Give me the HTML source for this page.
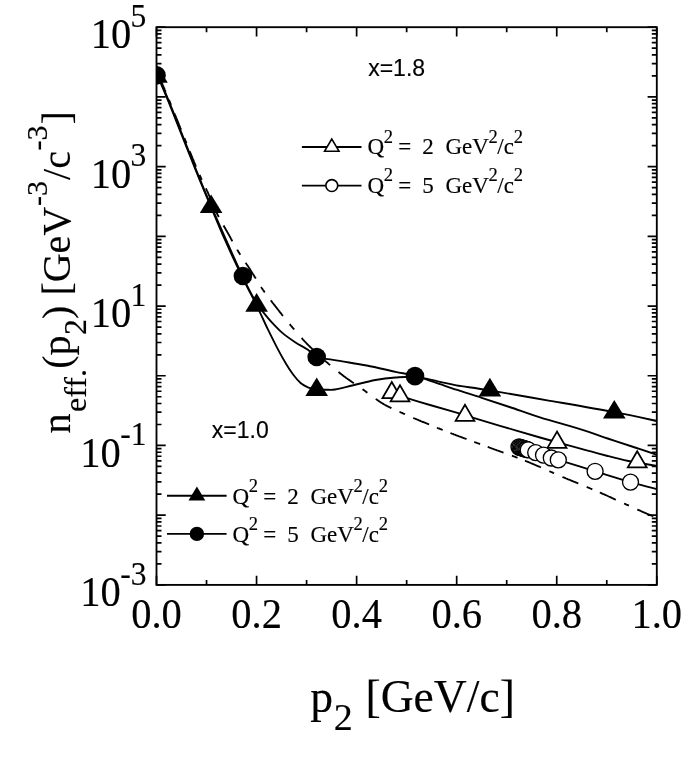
<!DOCTYPE html>
<html><head><meta charset="utf-8"><title>n_eff</title>
<style>
html,body{margin:0;padding:0;background:#fff;}
body{width:692px;height:769px;overflow:hidden;}
svg{display:block;filter:grayscale(1);}
text{fill:#000;stroke:#000;stroke-width:0.15px;}
.s{font-family:"Liberation Serif",serif;}
.a{font-family:"Liberation Sans",sans-serif;}
</style></head><body>
<svg width="692" height="769" viewBox="0 0 692 769">
<rect width="692" height="769" fill="#fff"/>
<defs><clipPath id="cp"><rect x="156.5" y="27.2" width="500.30" height="557.70"/></clipPath></defs>
<path d="M156.50 584.9v-9.2M156.50 27.2v9.2M206.53 584.9v-5.0M206.53 27.2v5.0M256.56 584.9v-9.2M256.56 27.2v9.2M306.59 584.9v-5.0M306.59 27.2v5.0M356.62 584.9v-9.2M356.62 27.2v9.2M406.65 584.9v-5.0M406.65 27.2v5.0M456.68 584.9v-9.2M456.68 27.2v9.2M506.71 584.9v-5.0M506.71 27.2v5.0M556.74 584.9v-9.2M556.74 27.2v9.2M606.77 584.9v-5.0M606.77 27.2v5.0M656.80 584.9v-9.2M656.80 27.2v9.2M156.5 27.20h9.2M656.8 27.20h-9.2M156.5 75.93h5.0M656.8 75.93h-5.0M156.5 63.65h5.0M656.8 63.65h-5.0M156.5 54.94h5.0M656.8 54.94h-5.0M156.5 48.19h5.0M656.8 48.19h-5.0M156.5 42.67h5.0M656.8 42.67h-5.0M156.5 38.00h5.0M656.8 38.00h-5.0M156.5 33.96h5.0M656.8 33.96h-5.0M156.5 30.39h5.0M656.8 30.39h-5.0M156.5 96.91h9.2M656.8 96.91h-9.2M156.5 145.64h5.0M656.8 145.64h-5.0M156.5 133.36h5.0M656.8 133.36h-5.0M156.5 124.65h5.0M656.8 124.65h-5.0M156.5 117.90h5.0M656.8 117.90h-5.0M156.5 112.38h5.0M656.8 112.38h-5.0M156.5 107.71h5.0M656.8 107.71h-5.0M156.5 103.67h5.0M656.8 103.67h-5.0M156.5 100.10h5.0M656.8 100.10h-5.0M156.5 166.62h9.2M656.8 166.62h-9.2M156.5 215.35h5.0M656.8 215.35h-5.0M156.5 203.08h5.0M656.8 203.08h-5.0M156.5 194.37h5.0M656.8 194.37h-5.0M156.5 187.61h5.0M656.8 187.61h-5.0M156.5 182.09h5.0M656.8 182.09h-5.0M156.5 177.42h5.0M656.8 177.42h-5.0M156.5 173.38h5.0M656.8 173.38h-5.0M156.5 169.81h5.0M656.8 169.81h-5.0M156.5 236.34h9.2M656.8 236.34h-9.2M156.5 285.06h5.0M656.8 285.06h-5.0M156.5 272.79h5.0M656.8 272.79h-5.0M156.5 264.08h5.0M656.8 264.08h-5.0M156.5 257.32h5.0M656.8 257.32h-5.0M156.5 251.80h5.0M656.8 251.80h-5.0M156.5 247.14h5.0M656.8 247.14h-5.0M156.5 243.09h5.0M656.8 243.09h-5.0M156.5 239.53h5.0M656.8 239.53h-5.0M156.5 306.05h9.2M656.8 306.05h-9.2M156.5 354.78h5.0M656.8 354.78h-5.0M156.5 342.50h5.0M656.8 342.50h-5.0M156.5 333.79h5.0M656.8 333.79h-5.0M156.5 327.04h5.0M656.8 327.04h-5.0M156.5 321.52h5.0M656.8 321.52h-5.0M156.5 316.85h5.0M656.8 316.85h-5.0M156.5 312.81h5.0M656.8 312.81h-5.0M156.5 309.24h5.0M656.8 309.24h-5.0M156.5 375.76h9.2M656.8 375.76h-9.2M156.5 424.49h5.0M656.8 424.49h-5.0M156.5 412.21h5.0M656.8 412.21h-5.0M156.5 403.50h5.0M656.8 403.50h-5.0M156.5 396.75h5.0M656.8 396.75h-5.0M156.5 391.23h5.0M656.8 391.23h-5.0M156.5 386.56h5.0M656.8 386.56h-5.0M156.5 382.52h5.0M656.8 382.52h-5.0M156.5 378.95h5.0M656.8 378.95h-5.0M156.5 445.47h9.2M656.8 445.47h-9.2M156.5 494.20h5.0M656.8 494.20h-5.0M156.5 481.93h5.0M656.8 481.93h-5.0M156.5 473.22h5.0M656.8 473.22h-5.0M156.5 466.46h5.0M656.8 466.46h-5.0M156.5 460.94h5.0M656.8 460.94h-5.0M156.5 456.27h5.0M656.8 456.27h-5.0M156.5 452.23h5.0M656.8 452.23h-5.0M156.5 448.66h5.0M656.8 448.66h-5.0M156.5 515.19h9.2M656.8 515.19h-9.2M156.5 563.91h5.0M656.8 563.91h-5.0M156.5 551.64h5.0M656.8 551.64h-5.0M156.5 542.93h5.0M656.8 542.93h-5.0M156.5 536.17h5.0M656.8 536.17h-5.0M156.5 530.65h5.0M656.8 530.65h-5.0M156.5 525.99h5.0M656.8 525.99h-5.0M156.5 521.94h5.0M656.8 521.94h-5.0M156.5 518.38h5.0M656.8 518.38h-5.0M156.5 584.90h9.2M656.8 584.90h-9.2" stroke="#000" stroke-width="1.7000000000000002" fill="none"/>
<g clip-path="url(#cp)">
<g fill="none" stroke="#000" stroke-width="1.85">
<path d="M157.3 76.1L157.3 76.1L157.4 76.2L157.5 76.3L157.6 76.3L157.6 76.4L157.7 76.5L157.8 76.5L157.8 76.6L157.9 76.7L158.0 76.7L158.1 76.8L158.1 76.9L158.2 77.0L158.3 77.0L158.4 77.1L158.5 77.2L158.5 77.3L158.6 77.4L158.7 77.5L158.7 77.5L158.8 77.6L158.9 77.7L159.0 77.8L159.0 77.9L159.1 78.0L159.2 78.1L159.2 78.2L159.3 78.2L159.3 78.3L159.4 78.4L159.4 78.4L159.5 78.5L159.5 78.5L159.6 78.5L159.6 78.6L159.6 78.6L159.7 78.6L159.7 78.7L159.7 78.7L159.8 78.7L159.8 78.8L159.8 78.8L159.9 78.9L159.9 78.9L160.0 79.0L160.0 79.0L160.1 79.1L160.1 79.2L160.2 79.3L160.2 79.4L160.3 79.5L160.4 79.7L160.4 79.8L160.5 80.0L160.6 80.1L160.7 80.3L160.8 80.6L160.9 80.8L161.0 81.0L161.1 81.3L161.3 81.6L161.4 81.9L161.6 82.3L161.7 82.6L161.9 83.0L162.1 83.4L162.3 83.8L162.4 84.2L162.6 84.7L162.8 85.1L163.0 85.6L163.2 86.0L163.4 86.5L163.6 87.0L163.8 87.5L164.0 88.0L164.2 88.5L164.5 89.0L164.7 89.6L164.9 90.1L165.2 90.7L165.4 91.3L165.7 91.9M168.9 99.7L169.2 100.5L169.6 101.3L169.9 102.2L170.3 103.1L170.7 104.0L171.0 104.9M174.5 113.5L175.0 114.8L175.6 116.1L176.1 117.5L176.7 118.9L177.3 120.3L177.9 121.8L178.5 123.3L179.1 124.9L179.8 126.5L180.4 128.1L181.1 129.7M184.4 138.1L185.1 139.8L185.8 141.4L186.5 143.1M189.8 151.4L190.4 152.9L191.1 154.5L191.7 156.0L192.3 157.5L192.9 159.0L193.5 160.4L194.0 161.8L194.6 163.1L195.1 164.4L195.6 165.6L196.1 166.7M199.6 174.9L199.9 175.6L200.2 176.3L200.5 177.0L200.8 177.6L201.0 178.2L201.3 178.7L201.5 179.3L201.8 179.8M205.9 188.3L206.1 188.8L206.4 189.3L206.6 189.8L206.8 190.3L207.1 190.9L207.4 191.5L207.6 192.1L207.9 192.6L208.1 193.2L208.4 193.8L208.6 194.4L208.9 195.0L209.2 195.6L209.4 196.2L209.7 196.8L209.9 197.5L210.2 198.1L210.5 198.7L210.7 199.3L211.0 199.9L211.3 200.5L211.5 201.2L211.8 201.8L212.0 202.4L212.3 203.0L212.6 203.6M216.2 211.9L216.5 212.5L216.7 213.0L217.0 213.5L217.2 214.1L217.5 214.6L217.8 215.1L218.0 215.6L218.3 216.1L218.5 216.6L218.8 217.1M223.5 225.5L223.7 225.9L224.0 226.3L224.2 226.8L224.5 227.2L224.7 227.6L225.0 228.0L225.2 228.5L225.5 228.9L225.7 229.3L226.0 229.7L226.2 230.2L226.5 230.6L226.7 231.1L227.0 231.5L227.2 231.9L227.5 232.4L227.8 232.9L228.0 233.3L228.3 233.8L228.5 234.2L228.8 234.7L229.0 235.1L229.3 235.6L229.5 236.1L229.8 236.5L230.1 237.0L230.3 237.5L230.6 237.9L230.8 238.4L231.1 238.9L231.3 239.3L231.6 239.8L231.8 240.3L232.1 240.7L232.4 241.2M237.2 249.6L237.4 250.1L237.7 250.5L238.0 251.0L238.3 251.5L238.6 251.9L238.9 252.4L239.1 252.8L239.4 253.3L239.7 253.7L240.0 254.2L240.3 254.7M245.7 262.8L246.0 263.3L246.3 263.7L246.6 264.2L246.9 264.6L247.2 265.1L247.6 265.6L247.9 266.0L248.2 266.5L248.5 266.9L248.8 267.4L249.1 267.9L249.4 268.4L249.7 268.8L250.0 269.3L250.3 269.8L250.6 270.3L250.9 270.7L251.2 271.2L251.5 271.7L251.8 272.2L252.1 272.7L252.4 273.2L252.7 273.7L253.0 274.1L253.3 274.6L253.6 275.1L253.9 275.6L254.2 276.1L254.5 276.6L254.8 277.1L255.2 277.6L255.5 278.1L255.8 278.6M261.1 287.1L261.4 287.6L261.7 288.0L262.1 288.5L262.4 289.0L262.7 289.5L263.1 290.0L263.4 290.4L263.7 290.9L264.1 291.4L264.4 291.9L264.8 292.3M270.7 300.3L271.1 300.8L271.5 301.2L271.8 301.7L272.2 302.2L272.5 302.6L272.9 303.1L273.3 303.5L273.6 304.0L274.0 304.5L274.3 304.9L274.7 305.4L275.1 305.9L275.4 306.3L275.8 306.8L276.1 307.2L276.5 307.7L276.9 308.2L277.2 308.6L277.6 309.1L277.9 309.5L278.3 310.0L278.7 310.5L279.0 310.9L279.4 311.4L279.7 311.9L280.1 312.3L280.5 312.8L280.8 313.2L281.2 313.7L281.6 314.2L281.9 314.6L282.3 315.1L282.6 315.5L283.0 316.0M289.7 324.2L290.1 324.6L290.4 325.1L290.8 325.5L291.2 326.0L291.6 326.5L292.0 326.9L292.3 327.4L292.7 327.8L293.1 328.2L293.5 328.7L293.9 329.1L294.2 329.6M301.6 338.0L302.0 338.4L302.4 338.9L302.8 339.3L303.2 339.8L303.6 340.2L304.0 340.7L304.4 341.1L304.8 341.6L305.3 342.0L305.7 342.5L306.1 342.9L306.6 343.4L307.0 343.8L307.4 344.3L307.9 344.7L308.3 345.2L308.8 345.6L309.3 346.1L309.7 346.5L310.2 347.0L310.7 347.5L311.2 347.9L311.7 348.4L312.1 348.9L312.6 349.3L313.1 349.8L313.6 350.3L314.1 350.8L314.6 351.2L315.1 351.7L315.6 352.2L316.1 352.6L316.6 353.1M325.1 360.8L325.6 361.2L326.0 361.6L326.5 362.0L327.0 362.4L327.4 362.8L327.9 363.2L328.3 363.6L328.8 364.0L329.2 364.4L329.7 364.8L330.1 365.2M338.5 372.0L338.9 372.3L339.4 372.7L339.8 373.0L340.2 373.4L340.7 373.7L341.1 374.1L341.6 374.4L342.0 374.8L342.5 375.1L342.9 375.5L343.4 375.8L343.8 376.2L344.3 376.5L344.8 376.8L345.2 377.2L345.7 377.5L346.2 377.9L346.6 378.2L347.1 378.6L347.6 378.9L348.0 379.2L348.5 379.6L349.0 379.9L349.5 380.2L349.9 380.6L350.4 380.9L350.9 381.2L351.4 381.6L351.9 381.9L352.3 382.2L352.8 382.6L353.3 382.9L353.8 383.2M362.5 389.2L363.0 389.6L363.5 389.9L364.0 390.2L364.5 390.6L365.0 390.9L365.5 391.3L365.9 391.7L366.4 392.0L366.9 392.4L367.4 392.7M375.8 398.9L376.3 399.3L376.8 399.6L377.3 400.0L377.8 400.3L378.3 400.7L378.8 401.0L379.3 401.4L379.8 401.7L380.3 402.0L380.8 402.4L381.3 402.7L381.8 403.0L382.3 403.3L382.8 403.6L383.3 403.9L383.8 404.2L384.3 404.5L384.8 404.8L385.3 405.1L385.8 405.3L386.3 405.6L386.8 405.9L387.3 406.1L387.8 406.4L388.3 406.7L388.8 406.9L389.4 407.2L389.9 407.4L390.4 407.7L390.9 407.9L391.4 408.2M399.5 411.8L400.0 412.0L400.5 412.3L401.0 412.5L401.5 412.7L402.0 412.9L402.5 413.1L403.0 413.4L403.5 413.6L404.0 413.8L404.5 414.0L405.0 414.3M413.3 417.9L413.7 418.1L414.2 418.3L414.7 418.5L415.1 418.7L415.6 418.9L416.1 419.1L416.6 419.3L417.1 419.5L417.6 419.7L418.1 420.0L418.6 420.2L419.1 420.4L419.7 420.6L420.2 420.8L420.7 421.1L421.3 421.3L421.8 421.5L422.4 421.8L423.0 422.0L423.6 422.2L424.2 422.5L424.8 422.7L425.4 423.0L426.0 423.2L426.6 423.5L427.2 423.7L427.8 424.0L428.4 424.2L429.1 424.5M437.0 427.7L437.6 428.0L438.3 428.3L439.1 428.5L439.8 428.8L440.5 429.1L441.2 429.4L441.9 429.7L442.7 430.0M450.4 433.0L451.2 433.3L452.0 433.6L452.9 433.9L453.7 434.3L454.6 434.6L455.5 434.9L456.3 435.3L457.2 435.6L458.1 435.9L459.0 436.3L459.9 436.6L460.9 437.0L461.8 437.3L462.7 437.7L463.7 438.0L464.6 438.4L465.6 438.7L466.5 439.1M474.3 441.9L475.2 442.3L476.2 442.6L477.2 443.0L478.1 443.4L479.1 443.7L480.1 444.1M487.7 446.9L488.6 447.2L489.6 447.6L490.5 447.9L491.4 448.3L492.4 448.6L493.3 449.0L494.2 449.3L495.2 449.6L496.1 450.0L497.0 450.3L498.0 450.6L498.9 451.0L499.8 451.3L500.7 451.6L501.7 452.0L502.6 452.3L503.5 452.6M511.9 455.7L512.9 456.0L513.8 456.4L514.7 456.7L515.7 457.1L516.6 457.4L517.5 457.8M525.0 460.7L525.9 461.1L526.9 461.5L527.8 461.8L528.7 462.2L529.7 462.6L530.6 463.0L531.6 463.4L532.5 463.8L533.4 464.2L534.4 464.6L535.3 465.0L536.2 465.4L537.2 465.8L538.1 466.2L539.1 466.6L540.0 467.0L540.9 467.4M549.4 471.2L550.3 471.6L551.3 472.0L552.2 472.4L553.1 472.8L554.1 473.2M562.5 476.9L563.4 477.3L564.4 477.7L565.3 478.1L566.2 478.5L567.2 478.9L568.1 479.3L569.0 479.6L570.0 480.0L570.9 480.4L571.8 480.8L572.7 481.2L573.7 481.6L574.6 482.0L575.5 482.3L576.5 482.7L577.4 483.1L578.3 483.5M586.7 486.9L587.6 487.3L588.6 487.7L589.5 488.1L590.4 488.5L591.4 488.9L592.3 489.3M599.8 492.5L600.8 492.9L601.7 493.3L602.7 493.8L603.7 494.2L604.7 494.6L605.7 495.1L606.7 495.5L607.7 496.0L608.7 496.5L609.7 496.9L610.8 497.4L611.8 497.9L612.8 498.3L613.9 498.8L614.9 499.3L615.9 499.7M624.1 503.5L625.0 503.9L626.0 504.4L627.0 504.8L627.9 505.2L628.9 505.7M637.3 509.5L638.0 509.8L638.7 510.1L639.4 510.4L640.1 510.7L640.8 511.0L641.4 511.3L642.1 511.6L642.7 511.9L643.3 512.1L643.9 512.4L644.5 512.6L645.1 512.9L645.7 513.1L646.3 513.4L646.8 513.6L647.4 513.8L647.9 514.1L648.4 514.3L648.9 514.5L649.4 514.7L649.9 514.9L650.4 515.1L650.8 515.3L651.3 515.4L651.7 515.6L652.1 515.8L652.5 516.0L652.9 516.1L653.3 516.3"/>
<path d="M156.5 75.4C156.8 75.8 157.5 76.7 158.2 78.0C158.9 79.3 158.3 77.7 160.6 83.0C162.9 88.3 166.0 95.5 171.8 110.0C177.6 124.5 189.1 153.8 195.6 170.0C202.1 186.2 206.1 195.3 211.0 207.0C215.9 218.7 219.8 228.2 225.0 240.0C230.2 251.8 237.2 266.6 242.5 277.5C247.8 288.4 252.4 296.7 256.6 305.3C260.8 313.9 264.4 322.2 267.8 329.2C271.2 336.2 273.9 341.6 276.9 347.4C279.9 353.2 283.3 359.2 286.0 363.8C288.7 368.4 290.9 371.6 293.3 374.8C295.7 378.0 298.2 380.9 300.6 383.0C303.0 385.1 305.2 386.2 307.9 387.3C310.6 388.4 313.6 389.3 316.7 389.7C319.8 390.1 323.1 389.7 326.2 389.7C329.2 389.7 330.6 390.2 335.0 389.5C339.4 388.8 345.6 387.1 352.3 385.5C359.0 383.9 368.2 381.3 375.4 380.0C382.6 378.7 389.0 378.0 395.6 377.5C402.2 377.0 408.0 376.3 415.0 376.9C422.0 377.5 430.9 379.9 437.8 381.3C444.7 382.7 447.6 383.8 456.3 385.3C465.0 386.8 474.3 387.8 489.9 390.4C505.5 393.0 529.3 397.2 550.0 400.8C570.7 404.4 596.5 408.8 614.3 412.2C632.1 415.6 649.9 419.5 657.0 421.0"/>
<path d="M156.5 75.4C156.9 75.8 157.9 76.7 158.7 78.0C159.5 79.3 159.0 77.7 161.3 83.0C163.6 88.3 166.7 95.5 172.5 110.0C178.3 124.5 189.7 153.9 196.2 170.0C202.7 186.1 203.6 188.9 211.4 206.7C219.2 224.5 235.3 260.7 242.8 276.8C250.3 292.9 253.4 297.8 256.6 303.5C259.9 309.2 259.8 307.9 262.3 311.0C264.8 314.1 268.0 318.2 271.4 321.9C274.8 325.5 278.4 329.5 282.4 332.9C286.3 336.3 290.9 339.4 295.1 342.2C299.4 345.0 304.3 347.4 307.9 349.8C311.5 352.2 311.7 355.0 316.7 356.8C321.7 358.6 329.5 359.2 337.8 360.6C346.1 362.1 357.1 363.6 366.7 365.5C376.3 367.4 387.6 370.1 395.6 371.8C403.7 373.5 408.4 374.1 415.0 375.9C421.6 377.7 428.1 380.1 435.0 382.4C441.9 384.7 448.5 387.1 456.3 389.7C464.1 392.3 472.8 394.9 481.7 397.8C490.6 400.7 499.8 403.8 509.5 407.0C519.2 410.2 528.2 413.6 540.0 417.3C551.8 421.0 568.7 425.7 580.0 429.2C591.3 432.7 598.5 435.4 607.7 438.5C616.9 441.6 626.8 444.8 635.0 447.5C643.2 450.2 653.3 453.6 657.0 454.8"/>
<path d="M391.8 392.6C393.2 393.1 393.6 393.7 400.0 395.8C406.4 397.9 419.2 401.8 430.0 405.0C440.8 408.2 453.3 411.7 465.0 415.2C476.7 418.7 487.5 422.1 500.0 425.8C512.5 429.5 530.5 434.8 540.0 437.5C549.5 440.2 551.0 440.6 557.0 442.2C563.0 443.8 570.1 445.8 575.9 447.4C581.7 449.0 586.5 450.3 591.8 451.7C597.1 453.1 601.6 454.4 607.7 456.0C613.8 457.6 620.2 459.3 628.4 461.0C636.6 462.7 652.2 465.2 657.0 466.0"/>
<path d="M519.0 447.0C521.8 447.9 529.2 450.5 535.7 452.6C542.2 454.8 548.4 456.8 558.3 459.9C568.2 463.0 583.1 467.6 595.1 471.3C607.1 475.0 620.2 479.2 630.5 482.1C640.8 485.1 652.6 487.9 657.0 489.0"/>
</g>
<polygon points="156.5,64.2 145.2,82.8 167.8,82.8" fill="#000"/>
<polygon points="211.1,194.5 199.8,213.1 222.4,213.1" fill="#000"/>
<polygon points="256.6,293.1 245.3,311.7 267.9,311.7" fill="#000"/>
<polygon points="316.7,377.5 305.4,396.1 328.0,396.1" fill="#000"/>
<polygon points="489.9,377.8 478.6,396.4 501.2,396.4" fill="#000"/>
<polygon points="614.3,400.0 603.0,418.6 625.6,418.6" fill="#000"/>
<circle cx="156.5" cy="75.4" r="9.3" fill="#000"/>
<circle cx="242.9" cy="276.0" r="9.3" fill="#000"/>
<circle cx="316.7" cy="357.0" r="9.3" fill="#000"/>
<circle cx="415.0" cy="376.1" r="9.3" fill="#000"/>
<polygon points="391.8,382.0 382.4,398.2 401.2,398.2" fill="#fff" stroke="#000" stroke-width="1.75" stroke-linejoin="miter"/>
<polygon points="400.0,385.2 390.6,401.4 409.4,401.4" fill="#fff" stroke="#000" stroke-width="1.75" stroke-linejoin="miter"/>
<polygon points="465.0,404.7 455.6,420.9 474.4,420.9" fill="#fff" stroke="#000" stroke-width="1.75" stroke-linejoin="miter"/>
<polygon points="557.0,431.6 547.5,447.8 566.5,447.8" fill="#fff" stroke="#000" stroke-width="1.75" stroke-linejoin="miter"/>
<polygon points="637.2,451.2 627.8,467.4 646.7,467.4" fill="#fff" stroke="#000" stroke-width="1.75" stroke-linejoin="miter"/>
<circle cx="519.0" cy="447.0" r="8.0" fill="#fff" stroke="#000" stroke-width="1.35"/>
<circle cx="520.1" cy="447.4" r="8.0" fill="#fff" stroke="#000" stroke-width="1.35"/>
<circle cx="521.3" cy="447.7" r="8.0" fill="#fff" stroke="#000" stroke-width="1.35"/>
<circle cx="522.5" cy="448.1" r="8.0" fill="#fff" stroke="#000" stroke-width="1.35"/>
<circle cx="523.6" cy="448.4" r="8.0" fill="#fff" stroke="#000" stroke-width="1.35"/>
<circle cx="524.8" cy="448.8" r="8.0" fill="#fff" stroke="#000" stroke-width="1.35"/>
<circle cx="525.9" cy="449.2" r="8.0" fill="#fff" stroke="#000" stroke-width="1.35"/>
<circle cx="527.0" cy="449.5" r="8.0" fill="#fff" stroke="#000" stroke-width="1.35"/>
<circle cx="528.2" cy="449.9" r="8.0" fill="#fff" stroke="#000" stroke-width="1.35"/>
<circle cx="535.7" cy="452.6" r="8.0" fill="#fff" stroke="#000" stroke-width="1.35"/>
<circle cx="543.5" cy="455.1" r="8.0" fill="#fff" stroke="#000" stroke-width="1.35"/>
<circle cx="551.3" cy="458.0" r="8.0" fill="#fff" stroke="#000" stroke-width="1.35"/>
<circle cx="558.3" cy="459.9" r="8.0" fill="#fff" stroke="#000" stroke-width="1.35"/>
<circle cx="595.1" cy="471.3" r="8.0" fill="#fff" stroke="#000" stroke-width="1.35"/>
<circle cx="630.5" cy="482.1" r="8.0" fill="#fff" stroke="#000" stroke-width="1.35"/>
</g>
<rect x="156.5" y="27.2" width="500.30" height="557.70" fill="none" stroke="#000" stroke-width="1.85"/>
<path d="M301.9 147.0h59.6" stroke="#000" stroke-width="1.85"/><polygon points="331.8,139.0 324.6,151.2 339.0,151.2" fill="#fff" stroke="#000" stroke-width="1.6" stroke-linejoin="miter"/>
<path d="M301.9 185.6h59.6" stroke="#000" stroke-width="1.85"/><circle cx="331.8" cy="185.6" r="5.95" fill="#fff" stroke="#000" stroke-width="1.6"/>
<path d="M167.0 495.7h59.6" stroke="#000" stroke-width="1.85"/><polygon points="196.9,486.4 188.5,500.4 205.3,500.4" fill="#000"/>
<path d="M167.0 533.9h59.6" stroke="#000" stroke-width="1.85"/><circle cx="196.9" cy="533.9" r="7.2" fill="#000"/>
<g class="s" font-size="23"><text x="367.4" y="154.4">Q</text><text x="383.7" y="142.9" font-size="18.5">2</text><text x="398.3" y="154.4">=</text><text x="422.2" y="154.4">2</text><text x="445.4" y="154.4">GeV</text><text x="488.4" y="142.9" font-size="18.5">2</text><text x="497.3" y="154.4">/c</text><text x="513.8" y="142.9" font-size="18.5">2</text></g>
<g class="s" font-size="23"><text x="367.4" y="192.8">Q</text><text x="383.7" y="181.3" font-size="18.5">2</text><text x="398.3" y="192.8">=</text><text x="422.2" y="192.8">5</text><text x="445.4" y="192.8">GeV</text><text x="488.4" y="181.3" font-size="18.5">2</text><text x="497.3" y="192.8">/c</text><text x="513.8" y="181.3" font-size="18.5">2</text></g>
<g class="s" font-size="23"><text x="232.4" y="503.5">Q</text><text x="248.7" y="492.0" font-size="18.5">2</text><text x="263.3" y="503.5">=</text><text x="287.2" y="503.5">2</text><text x="310.4" y="503.5">GeV</text><text x="353.4" y="492.0" font-size="18.5">2</text><text x="362.3" y="503.5">/c</text><text x="378.8" y="492.0" font-size="18.5">2</text></g>
<g class="s" font-size="23"><text x="232.4" y="541.9">Q</text><text x="248.7" y="530.4" font-size="18.5">2</text><text x="263.3" y="541.9">=</text><text x="287.2" y="541.9">5</text><text x="310.4" y="541.9">GeV</text><text x="353.4" y="530.4" font-size="18.5">2</text><text x="362.3" y="541.9">/c</text><text x="378.8" y="530.4" font-size="18.5">2</text></g>
<text class="a" font-size="23" x="368.2" y="75.9">x=1.8</text>
<text class="a" font-size="23" x="211.8" y="438.4">x=1.0</text>
<text class="s" font-size="40.5" text-anchor="middle" transform="translate(156.5,627.7) scale(1,1.04)">0.0</text>
<text class="s" font-size="40.5" text-anchor="middle" transform="translate(256.6,627.7) scale(1,1.04)">0.2</text>
<text class="s" font-size="40.5" text-anchor="middle" transform="translate(356.6,627.7) scale(1,1.04)">0.4</text>
<text class="s" font-size="40.5" text-anchor="middle" transform="translate(456.7,627.7) scale(1,1.04)">0.6</text>
<text class="s" font-size="40.5" text-anchor="middle" transform="translate(556.7,627.7) scale(1,1.04)">0.8</text>
<text class="s" font-size="40.5" text-anchor="middle" transform="translate(656.8,627.7) scale(1,1.04)">1.0</text>
<text class="s" font-size="40.5" transform="translate(90.8,48.4) scale(1,1.04)">10</text><text class="s" font-size="31.5" transform="translate(130.6,27.0) scale(1,1.07)">5</text>
<text class="s" font-size="40.5" transform="translate(90.8,187.8) scale(1,1.04)">10</text><text class="s" font-size="31.5" transform="translate(130.6,166.4) scale(1,1.07)">3</text>
<text class="s" font-size="40.5" transform="translate(90.8,327.2) scale(1,1.04)">10</text><text class="s" font-size="31.5" transform="translate(130.6,305.8) scale(1,1.07)">1</text>
<text class="s" font-size="40.5" transform="translate(80.3,466.7) scale(1,1.04)">10</text><text class="s" font-size="31.5" transform="translate(120.2,445.3) scale(1,1.07)">-1</text>
<text class="s" font-size="40.5" transform="translate(80.3,606.1) scale(1,1.04)">10</text><text class="s" font-size="31.5" transform="translate(120.2,584.7) scale(1,1.07)">-3</text>
<text class="s" font-size="45.6" x="310.3" y="712">p</text><text class="s" font-size="38" x="333.8" y="730.4">2</text><text class="s" font-size="45.6" x="365.5" y="712">[GeV/c]</text>
<g transform="translate(69.9,433.6) rotate(-90)" class="s" font-size="40"><text x="0" y="0">n</text><text x="21.6" y="16.3" font-size="32">eff.</text><text x="64.8" y="0">(p</text><text x="98.6" y="16.3" font-size="32">2</text><text x="114.7" y="0">) [GeV</text><text x="227.7" y="-23" font-size="30">-3</text><text x="253.7" y="0">/c</text><text x="283.2" y="-23" font-size="30">-3</text><text x="309.2" y="0">]</text></g>
</svg></body></html>
